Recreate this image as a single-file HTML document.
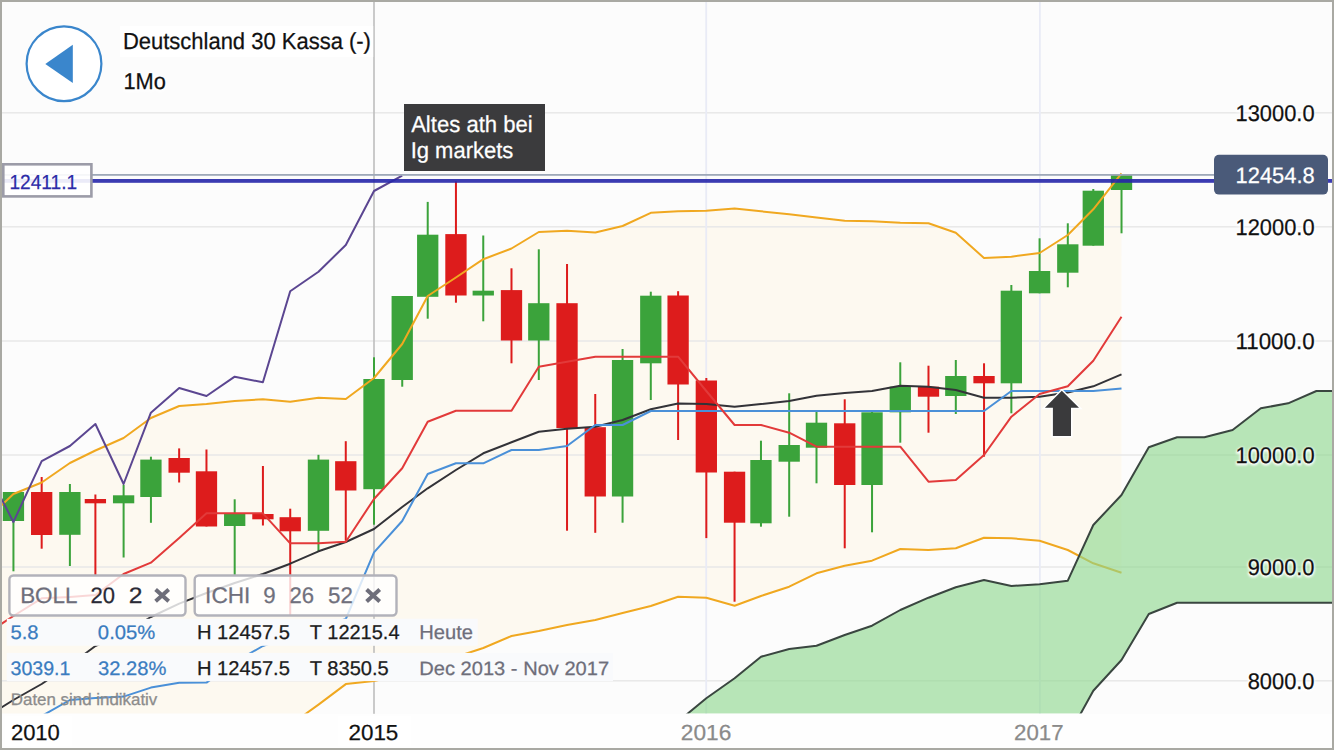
<!DOCTYPE html>
<html><head><meta charset="utf-8"><style>
html,body{margin:0;padding:0;}
body{width:1334px;height:750px;overflow:hidden;position:relative;background:#fcfcfc;font-family:"Liberation Sans",sans-serif;}
svg{position:absolute;left:0;top:0;}
.t{position:absolute;white-space:pre;line-height:1;}
</style></head><body>
<svg width="1334" height="750" viewBox="0 0 1334 750">
<defs><clipPath id="plot"><rect x="2" y="2" width="1330" height="711.5"/></clipPath></defs>
<rect x="0" y="0" width="1334" height="750" fill="#fcfcfc"/>
<g clip-path="url(#plot)"><polygon points="-13.9,520.0 13.4,494.0 41.7,482.5 69.9,463.0 95.4,450.5 123.6,438.0 150.9,418.0 179.2,406.0 206.5,403.9 234.7,401.0 262.9,399.3 290.2,401.7 318.5,397.7 345.8,399.0 374.0,378.0 402.2,344.0 427.7,296.0 455.9,277.5 483.3,259.2 511.5,248.5 538.8,232.0 567.0,230.7 595.3,232.5 622.6,226.0 650.8,212.8 678.1,211.2 706.3,210.7 734.6,208.4 761.0,211.3 789.2,214.3 816.5,217.5 844.7,220.7 872.0,221.3 900.3,222.7 928.5,223.3 955.8,232.7 984.0,258.0 1011.4,256.7 1039.6,253.0 1067.8,235.0 1093.3,209.3 1121.5,173.3 1121.5,572.7 1093.3,563.3 1067.8,550.0 1039.6,540.7 1011.4,538.3 984.0,537.7 955.8,548.3 928.5,550.0 900.3,549.0 872.0,560.7 844.7,565.7 816.5,573.3 789.2,586.7 761.0,596.0 734.6,605.7 706.3,597.7 678.1,596.7 650.8,606.0 622.6,613.0 595.3,620.0 567.0,625.0 538.8,631.0 511.5,636.0 483.3,648.0 455.9,657.0 427.7,665.0 402.2,675.0 374.0,681.0 345.8,684.1 318.5,704.6 290.2,725.0 262.9,745.0 262.9,760.0 -13.9,760.0" fill="#fdf9f0"/></g>
<rect x="2" y="112.05" width="1330" height="1.5" fill="#e8e8e8"/>
<rect x="2" y="226.05" width="1330" height="1.5" fill="#e8e8e8"/>
<rect x="2" y="340.25" width="1330" height="1.5" fill="#e8e8e8"/>
<rect x="2" y="454.25" width="1330" height="1.5" fill="#e8e8e8"/>
<rect x="2" y="566.25" width="1330" height="1.5" fill="#e8e8e8"/>
<rect x="2" y="680.05" width="1330" height="1.5" fill="#e8e8e8"/>
<rect x="1039" y="2" width="1.8" height="712" fill="#e9ebf6"/>
<rect x="705.3" y="2" width="1.8" height="712" fill="#e9ebf6"/>
<rect x="373.2" y="2" width="1.6" height="712" fill="#bdbdbd"/>
<g clip-path="url(#plot)"><rect x="12.44" y="492.0" width="2" height="79.3" fill="#3ba33b"/><rect x="2.79" y="492.0" width="21.3" height="29.0" fill="#3ba33b"/><rect x="40.67" y="477.0" width="2" height="71.7" fill="#dd1c1c"/><rect x="31.02" y="492.0" width="21.3" height="43.0" fill="#dd1c1c"/><rect x="68.89" y="484.0" width="2" height="82.0" fill="#3ba33b"/><rect x="59.24" y="492.0" width="21.3" height="42.8" fill="#3ba33b"/><rect x="94.39" y="494.5" width="2" height="80.5" fill="#dd1c1c"/><rect x="84.74" y="499.0" width="21.3" height="4.3" fill="#dd1c1c"/><rect x="122.61" y="485.0" width="2" height="72.5" fill="#3ba33b"/><rect x="112.96" y="495.3" width="21.3" height="8.0" fill="#3ba33b"/><rect x="149.93" y="456.7" width="2" height="66.1" fill="#3ba33b"/><rect x="140.28" y="459.6" width="21.3" height="37.4" fill="#3ba33b"/><rect x="178.15" y="448.4" width="2" height="34.1" fill="#dd1c1c"/><rect x="168.50" y="458.0" width="21.3" height="14.7" fill="#dd1c1c"/><rect x="205.47" y="449.5" width="2" height="77.0" fill="#dd1c1c"/><rect x="195.82" y="471.3" width="21.3" height="55.2" fill="#dd1c1c"/><rect x="233.69" y="499.3" width="2" height="75.7" fill="#3ba33b"/><rect x="224.04" y="514.0" width="21.3" height="12.0" fill="#3ba33b"/><rect x="261.92" y="466.0" width="2" height="59.5" fill="#dd1c1c"/><rect x="252.27" y="514.0" width="21.3" height="5.3" fill="#dd1c1c"/><rect x="289.23" y="508.7" width="2" height="107.3" fill="#dd1c1c"/><rect x="279.58" y="517.2" width="21.3" height="14.1" fill="#dd1c1c"/><rect x="317.46" y="454.8" width="2" height="96.5" fill="#3ba33b"/><rect x="307.81" y="459.6" width="21.3" height="71.2" fill="#3ba33b"/><rect x="344.77" y="441.2" width="2" height="99.5" fill="#dd1c1c"/><rect x="335.12" y="461.2" width="21.3" height="29.3" fill="#dd1c1c"/><rect x="373.00" y="357.3" width="2" height="167.4" fill="#3ba33b"/><rect x="363.35" y="379.0" width="21.3" height="110.2" fill="#3ba33b"/><rect x="401.23" y="296.0" width="2" height="90.7" fill="#3ba33b"/><rect x="391.58" y="296.0" width="21.3" height="84.0" fill="#3ba33b"/><rect x="426.72" y="201.9" width="2" height="116.8" fill="#3ba33b"/><rect x="417.07" y="234.7" width="21.3" height="62.1" fill="#3ba33b"/><rect x="454.94" y="181.3" width="2" height="121.4" fill="#dd1c1c"/><rect x="445.30" y="234.1" width="21.3" height="61.4" fill="#dd1c1c"/><rect x="482.26" y="235.5" width="2" height="85.8" fill="#3ba33b"/><rect x="472.61" y="290.7" width="21.3" height="4.8" fill="#3ba33b"/><rect x="510.49" y="268.3" width="2" height="95.0" fill="#dd1c1c"/><rect x="500.84" y="290.1" width="21.3" height="50.4" fill="#dd1c1c"/><rect x="537.80" y="249.3" width="2" height="130.7" fill="#3ba33b"/><rect x="528.15" y="303.2" width="21.3" height="37.3" fill="#3ba33b"/><rect x="566.03" y="264.0" width="2" height="266.7" fill="#dd1c1c"/><rect x="556.38" y="303.2" width="21.3" height="124.8" fill="#dd1c1c"/><rect x="594.25" y="394.0" width="2" height="138.8" fill="#dd1c1c"/><rect x="584.60" y="427.2" width="21.3" height="69.3" fill="#dd1c1c"/><rect x="621.57" y="349.0" width="2" height="173.7" fill="#3ba33b"/><rect x="611.92" y="360.0" width="21.3" height="136.5" fill="#3ba33b"/><rect x="649.79" y="291.7" width="2" height="108.3" fill="#3ba33b"/><rect x="640.14" y="295.7" width="21.3" height="67.6" fill="#3ba33b"/><rect x="677.11" y="291.2" width="2" height="148.8" fill="#dd1c1c"/><rect x="667.46" y="295.5" width="21.3" height="89.0" fill="#dd1c1c"/><rect x="705.33" y="378.0" width="2" height="160.1" fill="#dd1c1c"/><rect x="695.68" y="380.5" width="21.3" height="92.0" fill="#dd1c1c"/><rect x="733.56" y="471.7" width="2" height="130.0" fill="#dd1c1c"/><rect x="723.91" y="471.7" width="21.3" height="51.0" fill="#dd1c1c"/><rect x="759.96" y="440.7" width="2" height="86.0" fill="#3ba33b"/><rect x="750.31" y="460.0" width="21.3" height="63.3" fill="#3ba33b"/><rect x="788.19" y="393.3" width="2" height="123.4" fill="#3ba33b"/><rect x="778.54" y="445.0" width="21.3" height="16.7" fill="#3ba33b"/><rect x="815.50" y="411.7" width="2" height="71.6" fill="#3ba33b"/><rect x="805.85" y="422.7" width="21.3" height="25.0" fill="#3ba33b"/><rect x="843.73" y="399.3" width="2" height="149.0" fill="#dd1c1c"/><rect x="834.08" y="423.3" width="21.3" height="61.7" fill="#dd1c1c"/><rect x="871.04" y="411.7" width="2" height="120.6" fill="#3ba33b"/><rect x="861.39" y="412.3" width="21.3" height="72.7" fill="#3ba33b"/><rect x="899.27" y="362.3" width="2" height="80.4" fill="#3ba33b"/><rect x="889.62" y="386.7" width="21.3" height="25.6" fill="#3ba33b"/><rect x="927.49" y="365.7" width="2" height="67.0" fill="#dd1c1c"/><rect x="917.84" y="386.7" width="21.3" height="10.0" fill="#dd1c1c"/><rect x="954.81" y="360.0" width="2" height="54.0" fill="#3ba33b"/><rect x="945.16" y="376.0" width="21.3" height="20.0" fill="#3ba33b"/><rect x="983.03" y="363.3" width="2" height="93.4" fill="#dd1c1c"/><rect x="973.38" y="376.0" width="21.3" height="7.3" fill="#dd1c1c"/><rect x="1010.35" y="285.0" width="2" height="128.3" fill="#3ba33b"/><rect x="1000.70" y="290.7" width="21.3" height="92.6" fill="#3ba33b"/><rect x="1038.58" y="238.3" width="2" height="55.0" fill="#3ba33b"/><rect x="1028.93" y="271.0" width="21.3" height="22.3" fill="#3ba33b"/><rect x="1066.80" y="223.3" width="2" height="64.0" fill="#3ba33b"/><rect x="1057.15" y="244.3" width="21.3" height="28.4" fill="#3ba33b"/><rect x="1092.30" y="189.0" width="2" height="56.7" fill="#3ba33b"/><rect x="1082.64" y="190.7" width="21.3" height="55.0" fill="#3ba33b"/><rect x="1120.52" y="174.3" width="2" height="59.0" fill="#3ba33b"/><rect x="1110.87" y="174.3" width="21.3" height="15.7" fill="#3ba33b"/></g>
<g clip-path="url(#plot)">
<polyline points="-13.9,520.0 13.4,494.0 41.7,482.5 69.9,463.0 95.4,450.5 123.6,438.0 150.9,418.0 179.2,406.0 206.5,403.9 234.7,401.0 262.9,399.3 290.2,401.7 318.5,397.7 345.8,399.0 374.0,378.0 402.2,344.0 427.7,296.0 455.9,277.5 483.3,259.2 511.5,248.5 538.8,232.0 567.0,230.7 595.3,232.5 622.6,226.0 650.8,212.8 678.1,211.2 706.3,210.7 734.6,208.4 761.0,211.3 789.2,214.3 816.5,217.5 844.7,220.7 872.0,221.3 900.3,222.7 928.5,223.3 955.8,232.7 984.0,258.0 1011.4,256.7 1039.6,253.0 1067.8,235.0 1093.3,209.3 1121.5,173.3" fill="none" stroke="#f0a820" stroke-width="2" stroke-linejoin="round"/>
<polyline points="262.9,745.0 290.2,725.0 318.5,704.6 345.8,684.1 374.0,681.0 402.2,675.0 427.7,665.0 455.9,657.0 483.3,648.0 511.5,636.0 538.8,631.0 567.0,625.0 595.3,620.0 622.6,613.0 650.8,606.0 678.1,596.7 706.3,597.7 734.6,605.7 761.0,596.0 789.2,586.7 816.5,573.3 844.7,565.7 872.0,560.7 900.3,549.0 928.5,550.0 955.8,548.3 984.0,537.7 1011.4,538.3 1039.6,540.7 1067.8,550.0 1093.3,563.3 1121.5,572.7" fill="none" stroke="#f0a820" stroke-width="2" stroke-linejoin="round"/>
<polyline points="-13.9,717.0 13.4,700.0 41.7,684.0 69.9,665.0 95.4,646.0 123.6,633.0 150.9,617.0 179.2,603.6 206.5,593.0 234.7,583.0 262.9,574.0 290.2,563.7 318.5,551.3 345.8,542.0 374.0,529.0 402.2,507.0 427.7,488.3 455.9,470.0 483.3,453.3 511.5,442.3 538.8,431.7 567.0,428.8 595.3,426.7 622.6,420.0 650.8,409.3 678.1,403.5 706.3,404.0 734.6,406.7 761.0,404.0 789.2,401.0 816.5,395.7 844.7,393.0 872.0,391.0 900.3,385.7 928.5,386.7 955.8,390.0 984.0,397.7 1011.4,397.7 1039.6,396.7 1067.8,392.5 1093.3,386.3 1121.5,374.3" fill="none" stroke="#333338" stroke-width="2" stroke-linejoin="round"/>
<polyline points="13.4,740.0 41.7,716.0 69.9,700.0 95.4,698.0 123.6,696.6 150.9,687.6 179.2,682.7 206.5,682.6 234.7,662.0 262.9,646.0 290.2,636.0 318.5,628.0 345.8,619.0 374.0,552.3 402.2,521.0 427.7,474.0 455.9,463.3 483.3,463.3 511.5,450.0 538.8,450.0 567.0,446.0 595.3,425.0 622.6,425.0 650.8,411.0 678.1,411.0 706.3,411.0 734.6,411.0 761.0,411.0 789.2,411.0 816.5,411.0 844.7,411.0 872.0,411.0 900.3,411.0 928.5,411.0 955.8,411.0 984.0,411.0 1011.4,391.0 1039.6,391.0 1067.8,391.0 1093.3,391.0 1121.5,388.5" fill="none" stroke="#4a90d8" stroke-width="2" stroke-linejoin="round"/>
<polyline points="-13.9,634.0 13.4,616.0 41.7,598.3 69.9,597.0 95.4,595.0 123.6,574.0 150.9,562.7 179.2,538.0 206.5,513.3 234.7,513.3 262.9,513.3 290.2,543.3 318.5,543.3 345.8,541.7 374.0,499.0 402.2,468.3 427.7,421.7 455.9,410.7 483.3,410.7 511.5,410.7 538.8,366.7 567.0,361.7 595.3,356.7 622.6,356.7 650.8,356.7 678.1,356.7 706.3,391.0 734.6,425.0 761.0,425.0 789.2,432.7 816.5,446.7 844.7,446.7 872.0,446.7 900.3,446.7 928.5,481.7 955.8,480.0 984.0,455.0 1011.4,416.7 1039.6,394.0 1067.8,386.2 1093.3,360.7 1121.5,316.7" fill="none" stroke="#e23a3a" stroke-width="2" stroke-linejoin="round"/>
<polyline points="-13.9,469.0 13.4,522.0 41.7,461.2 69.9,446.0 95.4,424.0 123.6,484.0 150.9,412.7 179.2,388.0 206.5,396.0 234.7,376.7 262.9,382.3 290.2,291.3 318.5,271.7 345.8,245.0 374.0,191.0 402.2,175.7" fill="none" stroke="#5b4691" stroke-width="2" stroke-linejoin="round"/>
<polygon points="678.1,721.5 706.3,698.3 734.6,678.3 761.0,656.7 789.2,649.0 816.5,645.7 844.7,635.0 872.0,625.7 900.3,610.0 928.5,597.7 955.8,587.3 984.0,580.0 1011.4,586.0 1039.6,584.3 1067.8,580.7 1093.3,525.0 1121.5,495.0 1148.8,447.3 1177.1,437.3 1204.4,437.3 1232.6,430.0 1260.8,408.3 1288.1,403.3 1316.4,391.0 1343.7,391.0 1343.7,602.7 1316.4,602.7 1288.1,602.7 1260.8,602.7 1232.6,602.7 1204.4,602.7 1177.1,602.7 1148.8,614.0 1121.5,660.0 1093.3,690.7 1067.8,737.0 678.1,760.0" fill="rgba(140,215,140,0.62)"/>
<polyline points="678.1,721.5 706.3,698.3 734.6,678.3 761.0,656.7 789.2,649.0 816.5,645.7 844.7,635.0 872.0,625.7 900.3,610.0 928.5,597.7 955.8,587.3 984.0,580.0 1011.4,586.0 1039.6,584.3 1067.8,580.7 1093.3,525.0 1121.5,495.0 1148.8,447.3 1177.1,437.3 1204.4,437.3 1232.6,430.0 1260.8,408.3 1288.1,403.3 1316.4,391.0 1343.7,391.0" fill="none" stroke="#3a4640" stroke-width="2" stroke-linejoin="round"/>
<polyline points="1067.8,737.0 1093.3,690.7 1121.5,660.0 1148.8,614.0 1177.1,602.7 1204.4,602.7 1232.6,602.7 1260.8,602.7 1288.1,602.7 1316.4,602.7 1343.7,602.7" fill="none" stroke="#3a4640" stroke-width="2" stroke-linejoin="round"/>
</g>
<rect x="2" y="174" width="1212" height="1.8" fill="#9ea8b8"/>
<rect x="2" y="179" width="1330" height="3.8" fill="rgb(38,38,170)" fill-opacity="0.9"/>
<polygon points="1061.8,390.8 1079,407.8 1071,407.8 1071,435.9 1052.9,435.9 1052.9,407.8 1044.9,407.8" fill="#3a3a3c" stroke="#fff" stroke-width="3" paint-order="stroke" stroke-linejoin="miter"/>
</svg>
<svg width="1334" height="750" viewBox="0 0 1334 750" style="font-family:'Liberation Sans',sans-serif;text-rendering:geometricPrecision">
<defs><filter id="glow" x="-10%" y="-30%" width="120%" height="160%"><feGaussianBlur stdDeviation="1.1"/></filter></defs>
<rect x="120" y="26" width="253.2" height="31" fill="#ffffff"/>
<circle cx="64" cy="63.7" r="37.4" fill="#ffffff" stroke="#3a86cc" stroke-width="2.2"/>
<polygon points="45.3,64 72.8,44.8 72.8,82.9" fill="#3a86cc"/>
<text x="122.89" y="49.00" font-size="23.27" textLength="248.06" lengthAdjust="spacingAndGlyphs" fill="#111" stroke="#111" stroke-width="0.25" >Deutschland 30 Kassa (-)</text>
<text x="123.46" y="89.60" font-size="22.84" textLength="42.42" lengthAdjust="spacingAndGlyphs" fill="#ffffff" stroke="#ffffff" stroke-width="3" stroke-linejoin="round" filter="url(#glow)" >1Mo</text><text x="123.46" y="88.80" font-size="22.84" textLength="42.42" lengthAdjust="spacingAndGlyphs" fill="#111" stroke="#111" stroke-width="0.25" >1Mo</text>
<rect x="404" y="104" width="141" height="67" fill="#3b3b3d"/>
<text x="411.14" y="132.00" font-size="22.98" textLength="121.62" lengthAdjust="spacingAndGlyphs" fill="#fff" stroke="#fff" stroke-width="0.25" >Altes ath bei</text>
<text x="410.66" y="158.00" font-size="22.84" textLength="102.72" lengthAdjust="spacingAndGlyphs" fill="#fff" stroke="#fff" stroke-width="0.25" >Ig markets</text>
<rect x="3.3" y="164.3" width="88.1" height="32.1" fill="rgba(255,255,255,0.9)" stroke="#9c9ca8" stroke-width="2.6"/>
<text x="9.47" y="189.00" font-size="20.36" textLength="67.65" lengthAdjust="spacingAndGlyphs" fill="#2c2ca8" stroke="#2c2ca8" stroke-width="0.25" >12411.1</text>
<rect x="1214" y="154.8" width="114" height="39.8" rx="5" fill="#4a5a79"/>
<text x="1235.56" y="183.10" font-size="22.25" textLength="79.12" lengthAdjust="spacingAndGlyphs" fill="#fff" stroke="#fff" stroke-width="0.25" >12454.8</text>
<text x="1235.56" y="122.00" font-size="22.69" textLength="79.01" lengthAdjust="spacingAndGlyphs" fill="#ffffff" stroke="#ffffff" stroke-width="2.5" stroke-linejoin="round" filter="url(#glow)" >13000.0</text><text x="1235.56" y="121.20" font-size="22.69" textLength="79.01" lengthAdjust="spacingAndGlyphs" fill="#111" stroke="#111" stroke-width="0.25" >13000.0</text>
<text x="1235.56" y="236.00" font-size="22.69" textLength="79.01" lengthAdjust="spacingAndGlyphs" fill="#ffffff" stroke="#ffffff" stroke-width="2.5" stroke-linejoin="round" filter="url(#glow)" >12000.0</text><text x="1235.56" y="235.20" font-size="22.69" textLength="79.01" lengthAdjust="spacingAndGlyphs" fill="#111" stroke="#111" stroke-width="0.25" >12000.0</text>
<text x="1235.53" y="350.20" font-size="22.69" textLength="79.03" lengthAdjust="spacingAndGlyphs" fill="#ffffff" stroke="#ffffff" stroke-width="2.5" stroke-linejoin="round" filter="url(#glow)" >11000.0</text><text x="1235.53" y="349.40" font-size="22.69" textLength="79.03" lengthAdjust="spacingAndGlyphs" fill="#111" stroke="#111" stroke-width="0.25" >11000.0</text>
<text x="1235.56" y="464.20" font-size="22.69" textLength="79.01" lengthAdjust="spacingAndGlyphs" fill="#ffffff" stroke="#ffffff" stroke-width="2.5" stroke-linejoin="round" filter="url(#glow)" >10000.0</text><text x="1235.56" y="463.40" font-size="22.69" textLength="79.01" lengthAdjust="spacingAndGlyphs" fill="#111" stroke="#111" stroke-width="0.25" >10000.0</text>
<text x="1247.69" y="576.20" font-size="22.69" textLength="66.85" lengthAdjust="spacingAndGlyphs" fill="#ffffff" stroke="#ffffff" stroke-width="2.5" stroke-linejoin="round" filter="url(#glow)" >9000.0</text><text x="1247.69" y="575.40" font-size="22.69" textLength="66.85" lengthAdjust="spacingAndGlyphs" fill="#111" stroke="#111" stroke-width="0.25" >9000.0</text>
<text x="1247.69" y="690.00" font-size="22.69" textLength="66.85" lengthAdjust="spacingAndGlyphs" fill="#ffffff" stroke="#ffffff" stroke-width="2.5" stroke-linejoin="round" filter="url(#glow)" >8000.0</text><text x="1247.69" y="689.20" font-size="22.69" textLength="66.85" lengthAdjust="spacingAndGlyphs" fill="#111" stroke="#111" stroke-width="0.25" >8000.0</text>
<rect x="9.4" y="575.5" width="176.1" height="40" rx="4" fill="rgba(255,255,255,0.8)" stroke="#b2b2ba" stroke-width="2.4"/>
<text x="20.15" y="602.70" font-size="22.25" textLength="57.43" lengthAdjust="spacingAndGlyphs" fill="#6e6e7a" stroke="#6e6e7a" stroke-width="0.25" >BOLL</text>
<text x="90.60" y="602.70" font-size="22.25" textLength="24.48" lengthAdjust="spacingAndGlyphs" fill="#2a2a35" stroke="#2a2a35" stroke-width="0.25" >20</text>
<text x="128.77" y="602.70" font-size="22.25" textLength="13.69" lengthAdjust="spacingAndGlyphs" fill="#2a2a35" stroke="#2a2a35" stroke-width="0.25" >2</text>
<path d="M155.6,589.6 L168.7,601.2 M168.7,589.6 L155.6,601.2" stroke="#6e6e7a" stroke-width="4"/>
<rect x="194.7" y="575.5" width="201.8" height="40" rx="4" fill="rgba(255,255,255,0.8)" stroke="#b2b2ba" stroke-width="2.4"/>
<text x="205.11" y="603.00" font-size="22.55" textLength="45.29" lengthAdjust="spacingAndGlyphs" fill="#70707c" stroke="#70707c" stroke-width="0.25" >ICHI</text>
<text x="263.14" y="603.00" font-size="22.55" textLength="12.39" lengthAdjust="spacingAndGlyphs" fill="#70707c" stroke="#70707c" stroke-width="0.25" >9</text>
<text x="289.59" y="603.00" font-size="22.55" textLength="24.60" lengthAdjust="spacingAndGlyphs" fill="#70707c" stroke="#70707c" stroke-width="0.25" >26</text>
<text x="328.01" y="603.00" font-size="22.55" textLength="24.86" lengthAdjust="spacingAndGlyphs" fill="#70707c" stroke="#70707c" stroke-width="0.25" >52</text>
<path d="M366.6,589.5 L379.7,601.5 M379.7,589.5 L366.6,601.5" stroke="#6e6e7a" stroke-width="4"/>
<rect x="6.8" y="618.8" width="470.9" height="27" fill="#f9fafc"/>
<rect x="6.8" y="652.9" width="606.2" height="28.2" fill="#f9fafc"/>
<text x="10.49" y="639.00" font-size="19.64" textLength="28.07" lengthAdjust="spacingAndGlyphs" fill="#3a7cc0" stroke="#3a7cc0" stroke-width="0.25" >5.8</text>
<text x="97.89" y="639.00" font-size="19.64" textLength="57.38" lengthAdjust="spacingAndGlyphs" fill="#3a7cc0" stroke="#3a7cc0" stroke-width="0.25" >0.05%</text>
<text x="196.94" y="639.10" font-size="20.07" textLength="92.97" lengthAdjust="spacingAndGlyphs" fill="#1c1c1c" stroke="#1c1c1c" stroke-width="0.25" >H 12457.5</text>
<text x="309.85" y="639.10" font-size="20.07" textLength="89.71" lengthAdjust="spacingAndGlyphs" fill="#1c1c1c" stroke="#1c1c1c" stroke-width="0.25" >T 12215.4</text>
<text x="419.34" y="639.10" font-size="20.07" textLength="53.74" lengthAdjust="spacingAndGlyphs" fill="#6e6e7a" stroke="#6e6e7a" stroke-width="0.25" >Heute</text>
<text x="10.57" y="674.70" font-size="19.64" textLength="59.89" lengthAdjust="spacingAndGlyphs" fill="#3a7cc0" stroke="#3a7cc0" stroke-width="0.25" >3039.1</text>
<text x="97.94" y="674.70" font-size="19.64" textLength="68.45" lengthAdjust="spacingAndGlyphs" fill="#3a7cc0" stroke="#3a7cc0" stroke-width="0.25" >32.28%</text>
<text x="196.94" y="674.90" font-size="19.93" textLength="92.97" lengthAdjust="spacingAndGlyphs" fill="#1c1c1c" stroke="#1c1c1c" stroke-width="0.25" >H 12457.5</text>
<text x="309.85" y="674.90" font-size="19.93" textLength="78.89" lengthAdjust="spacingAndGlyphs" fill="#1c1c1c" stroke="#1c1c1c" stroke-width="0.25" >T 8350.5</text>
<text x="419.34" y="674.80" font-size="19.35" textLength="189.77" lengthAdjust="spacingAndGlyphs" fill="#6e6e7a" stroke="#6e6e7a" stroke-width="0.25" >Dec 2013 - Nov 2017</text>
<text x="10.81" y="704.80" font-size="16.58" textLength="146.52" lengthAdjust="spacingAndGlyphs" fill="#8c8c8c" stroke="#8c8c8c" stroke-width="0.3" >Daten sind indikativ</text>
<rect x="2" y="713.8" width="1330" height="34" fill="#fefefe"/>
<rect x="5" y="715.6" width="66.5" height="30.4" fill="#fff"/>
<rect x="338" y="715.6" width="72.6" height="30.4" fill="#fff"/>
<text x="10.90" y="740.20" font-size="21.82" textLength="48.97" lengthAdjust="spacingAndGlyphs" fill="#111" stroke="#111" stroke-width="0.25" >2010</text>
<text x="348.48" y="740.20" font-size="21.82" textLength="49.87" lengthAdjust="spacingAndGlyphs" fill="#111" stroke="#111" stroke-width="0.25" >2015</text>
<text x="680.87" y="740.20" font-size="21.82" textLength="50.45" lengthAdjust="spacingAndGlyphs" fill="#8a8a8a" stroke="#8a8a8a" stroke-width="0.25" >2016</text>
<text x="1014.09" y="740.20" font-size="21.82" textLength="49.47" lengthAdjust="spacingAndGlyphs" fill="#8a8a8a" stroke="#8a8a8a" stroke-width="0.25" >2017</text>
<rect x="1" y="1" width="1332" height="748" fill="none" stroke="#a9a9a3" stroke-width="2"/>
</svg>
</body></html>
